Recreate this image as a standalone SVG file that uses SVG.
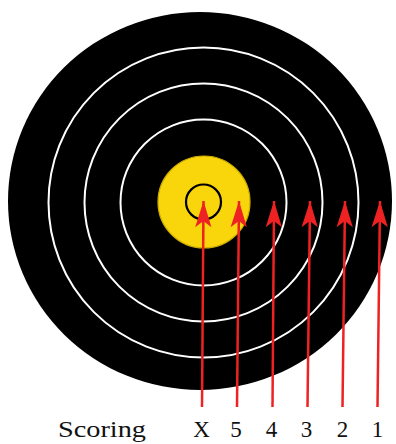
<svg xmlns="http://www.w3.org/2000/svg" width="396" height="444" viewBox="0 0 396 444">
<style>
.ring{fill:none;stroke:#ffffff;stroke-width:2}
.arr{stroke:#ee2222;stroke-width:2.5;fill:none;marker-end:url(#ah)}
.lbl{font-family:"Liberation Serif","DejaVu Serif",serif;font-size:23px;fill:#111;text-anchor:middle}
</style>
<defs>
<marker id="ah" markerUnits="userSpaceOnUse" orient="auto" refX="0" refY="0" markerWidth="30" markerHeight="20" viewBox="-23 -8 24 16" overflow="visible">
<path d="M0,0 L-21,-6.5 L-16,0 L-21,6.5 Z" fill="#ee2222"/>
</marker>
</defs>
<g id="target">
<ellipse cx="200" cy="201" rx="192" ry="189" fill="#000"/>
<circle class="ring" cx="203.5" cy="202.5" r="155"/>
<circle class="ring" cx="203.5" cy="202.5" r="119"/>
<circle class="ring" cx="203.5" cy="202.5" r="83"/>
<circle cx="204" cy="202" r="46" fill="#f9d50c" stroke="#cfae00" stroke-width="1.2"/>
<circle cx="203.5" cy="202" r="17.5" fill="none" stroke="#000" stroke-width="2.2"/>
</g>
<g id="connectors">
<line class="arr" x1="202" y1="407" x2="203.5" y2="201"/>
<line class="arr" x1="237" y1="407" x2="239" y2="201"/>
<line class="arr" x1="272.5" y1="407" x2="274" y2="201"/>
<line class="arr" x1="307.5" y1="407" x2="310" y2="201"/>
<line class="arr" x1="342.5" y1="407" x2="345" y2="201"/>
<line class="arr" x1="377.5" y1="407" x2="380" y2="201"/>
</g>
<g id="labels">
<text class="lbl" x="102" y="437" textLength="88" lengthAdjust="spacingAndGlyphs">Scoring</text>
<text class="lbl" x="201.5" y="437">X</text>
<text class="lbl" x="236" y="437">5</text>
<text class="lbl" x="271.5" y="437">4</text>
<text class="lbl" x="306.5" y="437">3</text>
<text class="lbl" x="342.5" y="437">2</text>
<text class="lbl" x="377.5" y="437">1</text>
</g>
</svg>
